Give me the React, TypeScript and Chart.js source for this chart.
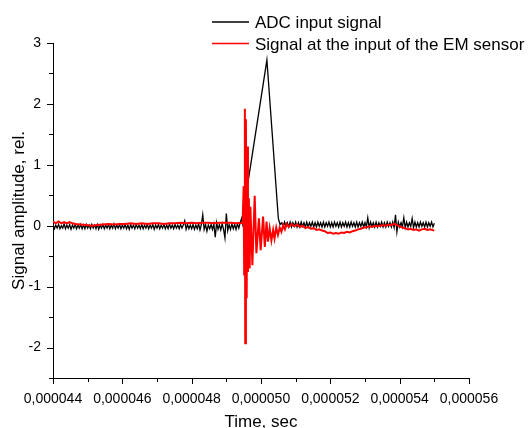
import React, { useEffect, useRef } from 'react';
import { Chart, registerables } from 'chart.js';

Chart.register(...registerables);

const FONT = '"Liberation Sans", Arial, Helvetica, sans-serif';

// axis ticks (time in microseconds, labelled in seconds)
const xTicks = [44, 46, 48, 50, 52, 54, 56];
const xTickLabels = ['0,000044', '0,000046', '0,000048', '0,000050', '0,000052', '0,000054', '0,000056'];
const xMinorTicks = [45, 47, 49, 51, 53, 55];
const yTicks = [-2, -1, 0, 1, 2, 3];
const yMinorTicks = [-2.5, -1.5, -0.5, 0.5, 1.5, 2.5];

const seriesNames = ['ADC input signal', 'Signal at the input of the EM sensor'];
const xTitle = 'Time, sec';
const yTitle = 'Signal amplitude, rel.';

// ADC input signal (black)
const adcTime = [
  44.00, 44.04, 44.08, 44.12, 44.16, 44.20, 44.24, 44.28, 44.32, 44.36,
  44.40, 44.44, 44.48, 44.52, 44.56, 44.60, 44.64, 44.68, 44.72, 44.76,
  44.80, 44.84, 44.88, 44.92, 44.96, 45.00, 45.04, 45.08, 45.12, 45.16,
  45.20, 45.24, 45.28, 45.32, 45.36, 45.40, 45.44, 45.48, 45.52, 45.56,
  45.60, 45.64, 45.68, 45.72, 45.76, 45.80, 45.84, 45.88, 45.92, 45.96,
  46.00, 46.04, 46.08, 46.12, 46.16, 46.20, 46.24, 46.28, 46.32, 46.36,
  46.40, 46.44, 46.48, 46.52, 46.56, 46.60, 46.64, 46.68, 46.72, 46.76,
  46.80, 46.84, 46.88, 46.92, 46.96, 47.00, 47.04, 47.08, 47.12, 47.16,
  47.20, 47.24, 47.28, 47.32, 47.36, 47.40, 47.44, 47.48, 47.52, 47.56,
  47.60, 47.64, 47.68, 47.72, 47.76, 47.80, 47.84, 47.88, 47.92, 47.96,
  48.00, 48.04, 48.08, 48.12, 48.16, 48.20, 48.24, 48.28, 48.32, 48.36,
  48.40, 48.44, 48.48, 48.52, 48.56, 48.60, 48.64, 48.68, 48.72, 48.76,
  48.80, 48.84, 48.88, 48.92, 48.96, 49.00, 49.04, 49.08, 49.12, 49.16,
  49.20, 49.24, 49.28, 49.32, 49.36, 49.40, 49.44,
  49.47, 49.60, 50.17, 50.50, 50.55,
  50.60, 50.64, 50.68, 50.72, 50.76, 50.80, 50.84, 50.88, 50.92, 50.96,
  51.00, 51.04, 51.08, 51.12, 51.16, 51.20, 51.24, 51.28, 51.32, 51.36,
  51.40, 51.44, 51.48, 51.52, 51.56, 51.60, 51.64, 51.68, 51.72, 51.76,
  51.80, 51.84, 51.88, 51.92, 51.96, 52.00, 52.04, 52.08, 52.12, 52.16,
  52.20, 52.24, 52.28, 52.32, 52.36, 52.40, 52.44, 52.48, 52.52, 52.56,
  52.60, 52.64, 52.68, 52.72, 52.76, 52.80, 52.84, 52.88, 52.92, 52.96,
  53.00, 53.04, 53.08, 53.12, 53.16, 53.20, 53.24, 53.28, 53.32, 53.36,
  53.40, 53.44, 53.48, 53.52, 53.56, 53.60, 53.64, 53.68, 53.72, 53.76,
  53.80, 53.84, 53.88, 53.92, 53.96, 54.00, 54.04, 54.08, 54.12, 54.16,
  54.20, 54.24, 54.28, 54.32, 54.36, 54.40, 54.44, 54.48, 54.52, 54.56,
  54.60, 54.64, 54.68, 54.72, 54.76, 54.80, 54.84, 54.88, 54.92, 54.96,
  55.00,
];
const adcValue = [
  0.02, -0.05, 0.01, -0.04, 0.02, -0.05, 0.00, -0.04, 0.03, -0.05,
  0.01, -0.04, 0.02, -0.06, 0.01, -0.04, 0.02, -0.05, 0.01, -0.04,
  0.02, -0.05, 0.01, -0.05, 0.02, -0.04, 0.01, -0.05, 0.02, -0.04,
  0.01, -0.05, 0.02, -0.06, 0.01, -0.04, 0.02, -0.05, 0.01, -0.04,
  0.02, -0.05, 0.01, -0.04, 0.03, -0.05, 0.01, -0.04, 0.02, -0.05,
  0.01, -0.04, 0.02, -0.05, 0.01, -0.06, 0.02, -0.04, 0.01, -0.05,
  0.02, -0.04, 0.01, -0.05, 0.02, -0.05, 0.01, -0.04, 0.02, -0.05,
  0.01, -0.04, 0.02, -0.06, 0.01, -0.04, 0.02, -0.05, 0.01, -0.04,
  0.02, -0.05, 0.01, -0.05, 0.03, -0.04, 0.01, -0.05, 0.02, -0.04,
  0.01, -0.05, 0.02, -0.04, 0.01, 0.08, -0.06, 0.02, -0.05, 0.01,
  -0.05, 0.02, -0.06, 0.01, -0.05, 0.03, -0.07, 0.02, 0.18, -0.06,
  0.02, -0.09, 0.01, -0.05, 0.02, -0.06, 0.03, -0.19, 0.05, -0.06,
  0.02, -0.07, 0.03, -0.06, -0.20, 0.20, -0.08, 0.02, -0.06, 0.03,
  -0.05, 0.02, -0.06, 0.03, -0.04, 0.05, 0.12,
  0.03, 0.62, 2.72, 0.12, 0.02,
  0.05, -0.02, 0.06, -0.01, 0.05, -0.02, 0.06, -0.02, 0.05, -0.01,
  0.06, -0.02, 0.05, -0.02, 0.06, -0.01, 0.05, -0.02, 0.06, -0.02,
  0.05, -0.01, 0.06, -0.02, 0.05, -0.02, 0.06, -0.01, 0.05, -0.02,
  0.06, -0.02, 0.05, -0.01, 0.06, -0.02, 0.05, -0.02, 0.06, -0.01,
  0.05, -0.02, 0.06, -0.02, 0.05, -0.01, 0.06, -0.02, 0.05, -0.02,
  0.06, -0.01, 0.05, -0.02, 0.06, -0.02, 0.05, -0.01, 0.06, -0.02,
  0.05, -0.02, 0.13, -0.03, 0.06, -0.01, 0.05, -0.02, 0.06, -0.02,
  0.05, -0.01, 0.06, -0.02, 0.05, -0.02, 0.06, -0.01, 0.05, -0.02,
  0.06, -0.03, 0.18, -0.10, 0.06, -0.02, 0.05, -0.02, 0.13, -0.03,
  0.06, -0.02, 0.05, -0.01, 0.12, -0.03, 0.06, -0.02, 0.05, -0.02,
  0.06, -0.01, 0.05, -0.02, 0.06, -0.02, 0.05, -0.01, 0.06, -0.02,
  0.04,
];

// Signal at the input of the EM sensor (red)
const emTime = [
  44.00, 44.08, 44.16, 44.24, 44.32, 44.40, 44.48, 44.56, 44.64, 44.80, 44.96, 45.12, 45.28,
  45.44, 45.60, 45.76, 45.92, 46.08, 46.24, 46.40, 46.56, 46.72, 46.88, 47.04, 47.20, 47.36,
  47.52, 47.68, 47.84, 48.00, 48.16, 48.32, 48.48, 48.64, 48.80, 48.96, 49.12, 49.28, 49.44,
  49.47, 49.50, 49.515, 49.535, 49.545, 49.565, 49.587, 49.604, 49.624, 49.650, 49.674, 49.694,
  49.751, 49.818, 49.867, 49.94, 49.99, 50.06, 50.11, 50.16, 50.20, 50.25, 50.30, 50.35, 50.39,
  50.44, 50.49, 50.54, 50.59, 50.64, 50.69, 50.74, 50.80, 50.88, 50.96, 51.04, 51.12, 51.20,
  51.28, 51.36, 51.44, 51.52, 51.60, 51.68, 51.76, 51.84, 51.92, 52.00, 52.08, 52.16, 52.24,
  52.32, 52.40, 52.48, 52.56, 52.64, 52.72, 52.80, 52.88, 52.96, 53.04, 53.12, 53.20, 53.28,
  53.36, 53.44, 53.52, 53.60, 53.68, 53.76, 53.84, 53.92, 54.00, 54.08, 54.16, 54.24, 54.32,
  54.40, 54.48, 54.56, 54.64, 54.72, 54.80, 54.88, 55.00,
];
const emValue = [
  0.07, 0.04, 0.07, 0.04, 0.06, 0.04, 0.06, 0.04, 0.03, 0.02, 0.01, 0.00, 0.01,
  0.02, 0.03, 0.02, 0.03, 0.03, 0.04, 0.03, 0.04, 0.03, 0.04, 0.04, 0.03, 0.04,
  0.04, 0.05, 0.04, 0.05, 0.04, 0.05, 0.05, 0.04, 0.05, 0.05, 0.05, 0.04, 0.05,
  0.04, 0.65, -0.80, 1.92, -1.93, 1.75, -1.19, 1.30, -0.76, 0.45, -0.70, 0.31,
  -0.65, 0.49, -0.45, 0.12, -0.40, 0.15, -0.35, 0.07, -0.26, -0.04, -0.24, -0.07, -0.21,
  -0.03, -0.15, -0.03, -0.10, 0.01, -0.06, 0.03, -0.02, 0.03, -0.01, 0.02, -0.02, 0.00,
  -0.04, -0.02, -0.05, -0.04, -0.07, -0.06, -0.08, -0.09, -0.12, -0.11, -0.13, -0.12, -0.13,
  -0.11, -0.12, -0.10, -0.11, -0.09, -0.08, -0.06, -0.05, -0.03, -0.03, -0.01, -0.02, 0.00,
  -0.01, 0.00, 0.01, 0.00, 0.02, 0.01, 0.03, 0.01, -0.01, -0.03, -0.04, -0.06, -0.05,
  -0.07, -0.06, -0.08, -0.06, -0.05, -0.07, -0.06, -0.08,
];

const seriesColors = ['#000000', '#ff0000'];

const decorPlugin = {
  id: 'decor',
  afterDraw(chart: any) {
    const { ctx, chartArea } = chart;
    const xs = chart.scales.x;
    const ys = chart.scales.y;
    ctx.save();
    ctx.strokeStyle = '#000';
    ctx.lineWidth = 1;
    ctx.beginPath();
    const bottom = Math.round(chartArea.bottom);
    const left = Math.round(chartArea.left);
    const vTick = (v: number, len: number) => {
      const px = Math.round(xs.getPixelForValue(v)) + 0.5;
      ctx.moveTo(px, bottom);
      ctx.lineTo(px, bottom + len);
    };
    const hTick = (v: number, len: number) => {
      const py = Math.round(ys.getPixelForValue(v)) + 0.5;
      ctx.moveTo(left, py);
      ctx.lineTo(left - len, py);
    };
    xTicks.forEach((v) => vTick(v, 6));
    xMinorTicks.forEach((v) => vTick(v, 4));
    yTicks.forEach((v) => hTick(v, 6));
    yMinorTicks.forEach((v) => hTick(v, 4));
    ctx.stroke();

    ctx.fillStyle = '#000';
    ctx.font = `17px ${FONT}`;
    ctx.textBaseline = 'alphabetic';
    ctx.textAlign = 'center';
    ctx.fillText(xTitle, (chartArea.left + chartArea.right) / 2, 427);
    ctx.save();
    ctx.translate(23.5, (chartArea.top + chartArea.bottom) / 2);
    ctx.rotate(-Math.PI / 2);
    ctx.fillText(yTitle, 0, 0);
    ctx.restore();

    // legend
    const rows = [22, 43.5];
    ctx.textAlign = 'left';
    seriesNames.forEach((name, i) => {
      ctx.strokeStyle = seriesColors[i];
      ctx.lineWidth = 1.5;
      ctx.beginPath();
      ctx.moveTo(212, rows[i]);
      ctx.lineTo(249, rows[i]);
      ctx.stroke();
      ctx.fillStyle = '#000';
      ctx.fillText(name, 255, rows[i] + 6);
    });
    ctx.restore();
  },
};

export default function App() {
  const ref = useRef<HTMLCanvasElement>(null);
  useEffect(() => {
    if (!ref.current) return;
    const adcData = adcTime.map((t, i) => ({ x: t, y: adcValue[i] }));
    const emData = emTime.map((t, i) => ({ x: t, y: emValue[i] }));
    const chart = new Chart(ref.current, {
      type: 'line',
      data: {
        datasets: [
          {
            label: seriesNames[0],
            data: adcData,
            borderColor: seriesColors[0],
            borderWidth: 1.3,
            pointRadius: 0,
            tension: 0,
            order: 1,
          },
          {
            label: seriesNames[1],
            data: emData,
            borderColor: seriesColors[1],
            borderWidth: 2,
            pointRadius: 0,
            tension: 0,
            order: 0,
          },
        ],
      },
      options: {
        animation: false,
        responsive: false,
        layout: { padding: { top: 43, right: 63, left: 0, bottom: 0 } },
        plugins: { legend: { display: false }, tooltip: { enabled: false } },
        scales: {
          x: {
            type: 'linear',
            min: 44,
            max: 56,
            afterFit: (s: any) => {
              s.height = 50;
            },
            afterBuildTicks: (s: any) => {
              s.ticks = xTicks.map((v) => ({ value: v }));
            },
            ticks: {
              callback: (v: any) => {
                const i = xTicks.indexOf(Number(v));
                return i >= 0 ? xTickLabels[i] : '';
              },
              padding: 13,
              color: '#000',
              font: { size: 14, family: FONT },
              maxRotation: 0,
              autoSkip: false,
            },
            grid: { display: false, drawTicks: false },
            border: { display: true, color: '#000', width: 1 },
          },
          y: {
            type: 'linear',
            min: -2.5,
            max: 3,
            afterFit: (s: any) => {
              s.width = 53;
            },
            afterBuildTicks: (s: any) => {
              s.ticks = yTicks.map((v) => ({ value: v }));
            },
            ticks: {
              callback: (v: any) => String(v),
              padding: 12,
              color: '#000',
              font: { size: 14, family: FONT },
              autoSkip: false,
            },
            grid: { display: false, drawTicks: false },
            border: { display: true, color: '#000', width: 1 },
          },
        },
      },
      plugins: [decorPlugin],
    });
    return () => chart.destroy();
  }, []);
  return (
    <div style={{ position: 'absolute', left: 0, top: 0, width: 532, height: 428, background: '#fff' }}>
      <canvas ref={ref} width={532} height={428} style={{ display: 'block' }} />
    </div>
  );
}
